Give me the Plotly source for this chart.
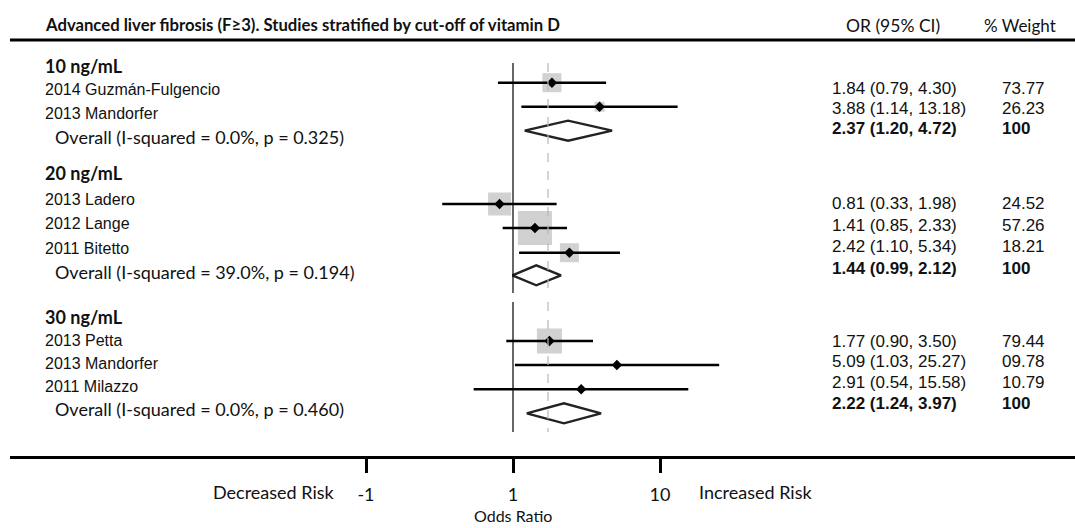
import plotly.graph_objects as go

# ---------------- data ----------------
title_text = "Advanced liver fibrosis (F\u22653). Studies stratified by cut-off of vitamin D"
groups = ["10 ng/mL", "20 ng/mL", "30 ng/mL"]
study_labels = [
    ["2014 Guzmán-Fulgencio", "2013 Mandorfer"],
    ["2013 Ladero", "2012 Lange", "2011 Bitetto"],
    ["2013 Petta", "2013 Mandorfer", "2011 Milazzo"],
]
study_or = [[1.84, 3.88], [0.81, 1.41, 2.42], [1.77, 5.09, 2.91]]
study_lo = [[0.79, 1.14], [0.33, 0.85, 1.10], [0.90, 1.03, 0.54]]
study_hi = [[4.30, 13.18], [1.98, 2.33, 5.34], [3.50, 25.27, 15.58]]
study_weight = [["73.77", "26.23"], ["24.52", "57.26", "18.21"], ["79.44", "09.78", "10.79"]]
overall_labels = [
    "Overall (I-squared = 0.0%, p = 0.325)",
    "Overall (I-squared = 39.0%, p = 0.194)",
    "Overall (I-squared = 0.0%, p = 0.460)",
]
overall_or = [2.37, 1.44, 2.22]
overall_lo = [1.20, 0.99, 1.24]
overall_hi = [4.72, 2.12, 3.97]
overall_weight = ["100", "100", "100"]
pooled_or = 1.73
tick_vals = [0.1, 1, 10]
tick_text = ["-1", "1", "10"]

# ---------------- layout (pixel positions, styles) ----------------
W, H = 1075, 528
ML, MB = 10, 72
PLOT_W = W - ML
PLOT_H = H - MB
X_ONE_PX = 513.0     # pixel position of OR = 1
DECADE_PX = 147.0    # pixels per decade
log_lo = -(X_ONE_PX - ML) / DECADE_PX
log_hi = (W - X_ONE_PX) / DECADE_PX

mark_y = [[82.7, 106.7], [204, 228, 252.7], [341, 365, 389.3]]
diamond_y = [130.7, 275.3, 413.3]
left_y = [[90, 113], [199, 223, 248], [340, 363, 386]]
left_overall_y = [137, 272, 409]
right_y = [[88.3, 108.7], [204, 225, 246.7], [341.7, 361.7, 382]]
right_overall_y = [128.3, 268.3, 403.3]
header_y = [66, 173, 317]
box_px = [[19, 10], [23, 34, 19], [25, 3, 4]]
DIAMOND_HALF = 10

ARIAL = "Liberation Sans, Arial, sans-serif"
CAL = "Lato, Open Sans, sans-serif"
INK = "#111111"


def px(xp):
    return (xp - ML) / PLOT_W


def py(yp):
    return (PLOT_H - yp) / PLOT_H


fig = go.Figure()

# grey boxes
bx, by, bs = [], [], []
for g in range(len(groups)):
    for i, v in enumerate(study_or[g]):
        bx.append(v); by.append(mark_y[g][i]); bs.append(box_px[g][i])
fig.add_trace(go.Scatter(x=bx, y=by, mode="markers",
                         marker=dict(symbol="square", size=bs, color="#bdbdbd", line=dict(width=0)),
                         hoverinfo="skip", showlegend=False))

# CI lines
cx, cy = [], []
for g in range(len(groups)):
    for i in range(len(study_or[g])):
        cx += [study_lo[g][i], study_hi[g][i], None]
        cy += [mark_y[g][i], mark_y[g][i], None]
fig.add_trace(go.Scatter(x=cx, y=cy, mode="lines", line=dict(color="black", width=2.6),
                         hoverinfo="skip", showlegend=False))

# point estimates
fig.add_trace(go.Scatter(x=bx, y=by, mode="markers",
                         marker=dict(symbol="diamond", size=8, color="black"),
                         hoverinfo="skip", showlegend=False))

# overall diamonds
dx, dy = [], []
for g in range(len(groups)):
    yc = diamond_y[g]
    dx += [overall_lo[g], overall_or[g], overall_hi[g], overall_or[g], overall_lo[g], None]
    dy += [yc, yc - DIAMOND_HALF, yc, yc + DIAMOND_HALF, yc, None]
fig.add_trace(go.Scatter(x=dx, y=dy, mode="lines", line=dict(color="#222222", width=2.4),
                         hoverinfo="skip", showlegend=False))

shapes = []
# null line (OR = 1) and pooled dashed line
for y0, y1 in [(63, 293), (302, 432)]:
    shapes.append(dict(type="line", xref="x", yref="y", x0=1, x1=1, y0=y0, y1=y1,
                       line=dict(color="black", width=1.2)))
    shapes.append(dict(type="line", xref="x", yref="y", x0=pooled_or, x1=pooled_or, y0=y0, y1=y1,
                       line=dict(color="#b8b8b8", width=1.2, dash="dash")))
# top rule
shapes.append(dict(type="line", xref="paper", yref="y", x0=0, x1=1, y0=40, y1=40,
                   line=dict(color="black", width=3)))

ann = []
def add(text, xp, yp, anchor="left", font=CAL, size=16, bold=False, color=INK):
    ann.append(dict(text=("<b>%s</b>" % text) if bold else text, xref="paper", yref="paper",
                    x=px(xp), y=py(yp), xanchor=anchor, yanchor="middle", showarrow=False,
                    font=dict(family=font, size=size, color=color)))

add(title_text, 43, 25, bold=True, size=16.7)
add("OR (95% CI)", 893, 25, anchor="center", size=17.5)
add("% Weight", 1020, 25, anchor="center", size=17)

for g in range(len(groups)):
    add(groups[g], 43, header_y[g], bold=True, size=18)
    for i, lab in enumerate(study_labels[g]):
        add(lab, 43, left_y[g][i], font=ARIAL, size=16)
        add("%.2f (%.2f, %.2f)" % (study_or[g][i], study_lo[g][i], study_hi[g][i]),
            830, right_y[g][i], font=ARIAL, size=17)
        add(study_weight[g][i], 1000, right_y[g][i], font=ARIAL, size=17)
    add(overall_labels[g], 53, left_overall_y[g], size=18)
    add("%.2f (%.2f, %.2f)" % (overall_or[g], overall_lo[g], overall_hi[g]),
        830, right_overall_y[g], font=ARIAL, size=17, bold=True)
    add(overall_weight[g], 1000, right_overall_y[g], font=ARIAL, size=17, bold=True)

add("Decreased Risk", 337, 492, anchor="right", size=18)
add("Increased Risk", 697, 492, anchor="left", size=18)
add("Odds Ratio", X_ONE_PX, 515, anchor="center", size=16)

fig.update_layout(
    width=W, height=H,
    margin=dict(l=ML, r=0, t=0, b=MB, pad=0),
    paper_bgcolor="white", plot_bgcolor="white",
    showlegend=False,
    shapes=shapes, annotations=ann,
    xaxis=dict(type="log", range=[log_lo, log_hi], showgrid=False, zeroline=False,
               showline=True, linecolor="black", linewidth=3, mirror=False,
               ticks="outside", ticklen=14, tickwidth=3, tickcolor="black",
               tickvals=tick_vals, ticktext=tick_text, ticklabelstandoff=6,
               tickfont=dict(family=CAL, size=18, color=INK),
               fixedrange=True),
    yaxis=dict(range=[PLOT_H, 0], visible=False, fixedrange=True),
)

fig.write_html("out.html")
